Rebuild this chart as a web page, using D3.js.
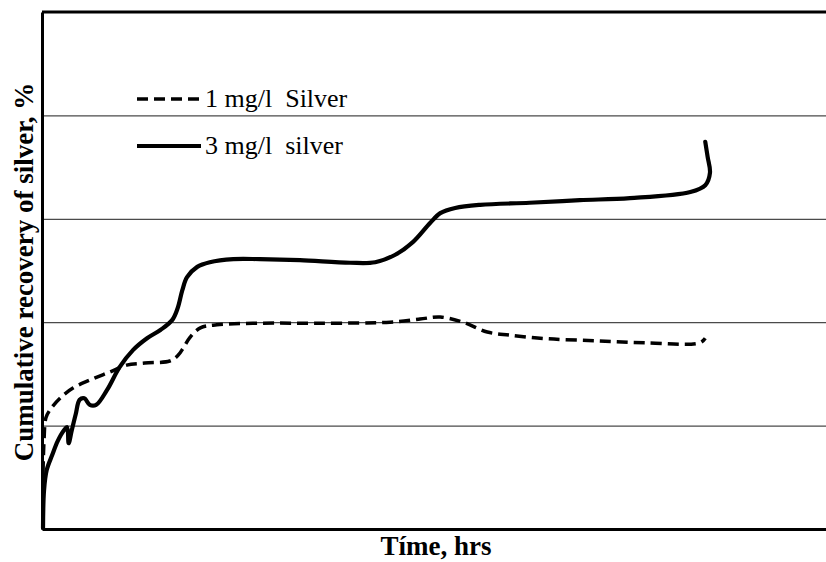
<!DOCTYPE html>
<html>
<head>
<meta charset="utf-8">
<script src="https://cdn.jsdelivr.net/npm/d3@7"></script>
<style>
  html, body { margin: 0; padding: 0; background: #fff; }
  svg text { font-family: "Liberation Serif", "Times New Roman", serif; }
</style>
</head>
<body>
<svg id="chart" width="826" height="562"></svg>
<script>
// Elapsed time (hrs) and cumulative silver recovery (%) for each dosage
const time1 = [0.13, 0.26, 0.5, 1.0, 2.3, 4.0, 6.1, 8.7, 10.8, 13.1, 16.3, 17.3, 18.1, 18.9, 20.2, 22.3, 27.8, 35.5, 44.4, 48.2, 50.8, 53.7, 56.8, 59.7, 64.4, 70.8, 77.2, 83.9, 84.6];
const recovery1 = [11.0, 17.2, 21.5, 23.0, 25.3, 27.3, 28.8, 30.4, 31.7, 32.1, 32.5, 33.5, 35.2, 37.1, 38.9, 39.5, 39.8, 39.8, 40.0, 40.6, 41.0, 40.0, 38.1, 37.5, 36.8, 36.4, 36.0, 36.0, 36.9];

const time3 = [0.13, 0.26, 0.6, 1.3, 2.0, 2.8, 3.2, 3.4, 3.8, 4.3, 4.8, 5.4, 6.1, 6.9, 8.3, 9.9, 11.6, 13.4, 15.1, 16.6, 17.3, 17.9, 18.5, 19.8, 21.4, 24.4, 27.8, 32.9, 39.3, 42.5, 45.0, 47.3, 49.5, 50.8, 52.7, 55.9, 62.2, 68.6, 75.0, 82.7, 84.6, 85.2, 84.9, 84.6];
const recovery3 = [0.2, 7.5, 11.4, 14.3, 17.0, 19.1, 19.7, 16.6, 19.1, 22.2, 25.0, 25.3, 24.0, 24.0, 26.9, 31.3, 34.6, 36.9, 38.5, 40.4, 42.7, 46.2, 48.7, 50.7, 51.6, 52.2, 52.2, 52.0, 51.5, 51.6, 53.0, 55.5, 59.2, 61.1, 62.1, 62.7, 63.1, 63.6, 64.0, 65.2, 66.5, 68.9, 72.0, 74.9];

const gridValues = [20, 40, 60, 80];
const seriesNames = ["1 mg/l  Silver", "3 mg/l  silver"];
const xTitle = "Tíme, hrs";
const yTitle = "Cumulative recovery of silver, %";

const svg = d3.select("#chart");
const margin = { left: 42, top: 12, right: 0, bottom: 33 };
const W = 826, H = 562;
const innerW = W - margin.left - margin.right;
const innerH = H - margin.top - margin.bottom;

const x = d3.scaleLinear().domain([0, 100]).range([margin.left, margin.left + innerW]);
const y = d3.scaleLinear().domain([0, 100]).range([margin.top + innerH, margin.top]);

// Horizontal gridlines
const grid = svg.append("g")
  .attr("transform", `translate(${margin.left},0)`)
  .call(d3.axisLeft(y).tickValues(gridValues).tickSize(-innerW).tickFormat(""));
grid.select(".domain").remove();
grid.selectAll(".tick line").attr("stroke", "#4a4a4a").attr("stroke-width", 1.3);

// Frame: top border, left and bottom axes
svg.append("g")
  .attr("transform", `translate(0,${y(0)})`)
  .call(d3.axisBottom(x).tickValues([]).tickSizeOuter(0))
  .select(".domain").attr("stroke", "#000").attr("stroke-width", 3);
svg.append("g")
  .attr("transform", `translate(${x(0)},0)`)
  .call(d3.axisLeft(y).tickValues([]).tickSizeOuter(0))
  .select(".domain").attr("stroke", "#000").attr("stroke-width", 3);
svg.append("line")
  .attr("x1", x(0)).attr("x2", W)
  .attr("y1", y(100)).attr("y2", y(100))
  .attr("stroke", "#000").attr("stroke-width", 3);

const line = d3.line()
  .x(d => x(d[0]))
  .y(d => y(d[1]))
  .curve(d3.curveCatmullRom.alpha(0.5));

const s1 = time1.map((t, i) => [t, recovery1[i]]);
const s3 = time3.map((t, i) => [t, recovery3[i]]);

svg.append("path")
  .attr("d", line(s1))
  .attr("fill", "none")
  .attr("stroke", "#000")
  .attr("stroke-width", 3.5)
  .attr("stroke-dasharray", "11,6");

svg.append("path")
  .attr("d", line(s3))
  .attr("fill", "none")
  .attr("stroke", "#000")
  .attr("stroke-width", 4.2)
  .attr("stroke-linejoin", "round")
  .attr("stroke-linecap", "round");

// Legend
const legend = svg.append("g");
const legendRows = [
  { name: seriesNames[0], yPos: 99, dash: "11,6", width: 3.5 },
  { name: seriesNames[1], yPos: 146, dash: null, width: 4.2 }
];
legendRows.forEach(r => {
  legend.append("line")
    .attr("x1", 137).attr("x2", 201)
    .attr("y1", r.yPos).attr("y2", r.yPos)
    .attr("stroke", "#000")
    .attr("stroke-width", r.width)
    .attr("stroke-dasharray", r.dash);
  legend.append("text")
    .attr("x", 205).attr("y", r.yPos + 8)
    .attr("font-size", 26)
    .style("white-space", "pre")
    .text(r.name);
});

// Axis titles
svg.append("text")
  .attr("x", 436).attr("y", 555)
  .attr("text-anchor", "middle")
  .attr("font-size", 27)
  .attr("font-weight", "bold")
  .text(xTitle);

svg.append("text")
  .attr("transform", `translate(33,272) rotate(-90)`)
  .attr("text-anchor", "middle")
  .attr("font-size", 27)
  .attr("font-weight", "bold")
  .text(yTitle);
</script>
</body>
</html>
